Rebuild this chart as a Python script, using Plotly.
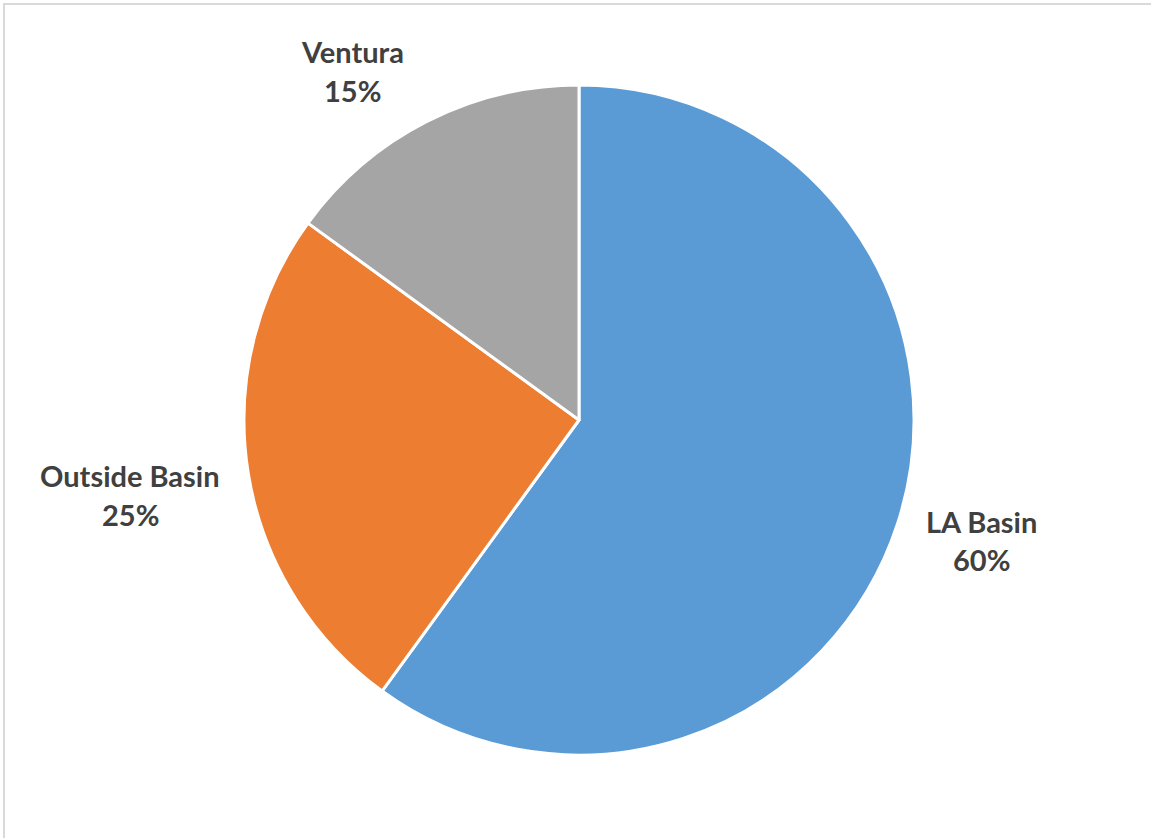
import plotly.graph_objects as go

# Share of total by region
regions = ["LA Basin", "Outside Basin", "Ventura"]
shares = [60, 25, 15]
colors = ["#5B9BD5", "#ED7D31", "#A5A5A5"]

# Label anchor positions (paper fractions) for each region's data label
label_x = [981 / 1151, 130 / 1151, 352 / 1151]
label_y_name = [1 - 521 / 838, 1 - 475 / 838, 1 - 52 / 838]
label_y_pct = [1 - 559 / 838, 1 - 514 / 838, 1 - 90 / 838]

W, H = 1151, 838

fig = go.Figure(
    go.Pie(
        labels=regions,
        values=shares,
        sort=False,
        direction="clockwise",
        rotation=0,
        marker=dict(colors=colors, line=dict(color="white", width=3)),
        textinfo="none",
        hoverinfo="label+percent",
        showlegend=False,
        domain=dict(x=[244 / W, 914 / W], y=[1 - 755 / H, 1 - 85 / H]),
    )
)

total = sum(shares)
annotations = []
for name, val, x, yn, yp in zip(regions, shares, label_x, label_y_name, label_y_pct):
    pct = f"{round(100 * val / total)}%"
    for txt, y in ((name, yn), (pct, yp)):
        annotations.append(
            dict(
                text=f"<b>{txt}</b>",
                x=x, y=y, xref="paper", yref="paper",
                xanchor="center", yanchor="middle",
                showarrow=False,
                font=dict(family="Lato", size=29, color="#404040"),
            )
        )

fig.update_layout(
    width=W,
    height=H,
    margin=dict(l=0, r=0, t=0, b=0),
    paper_bgcolor="white",
    plot_bgcolor="white",
    annotations=annotations,
    shapes=[
        dict(
            type="rect", xref="paper", yref="paper",
            x0=4 / W, x1=1.02, y0=-0.02, y1=1 - 4 / H,
            line=dict(color="#D9D9D9", width=2),
            fillcolor="rgba(0,0,0,0)",
        )
    ],
)

fig.write_html("out.html")
